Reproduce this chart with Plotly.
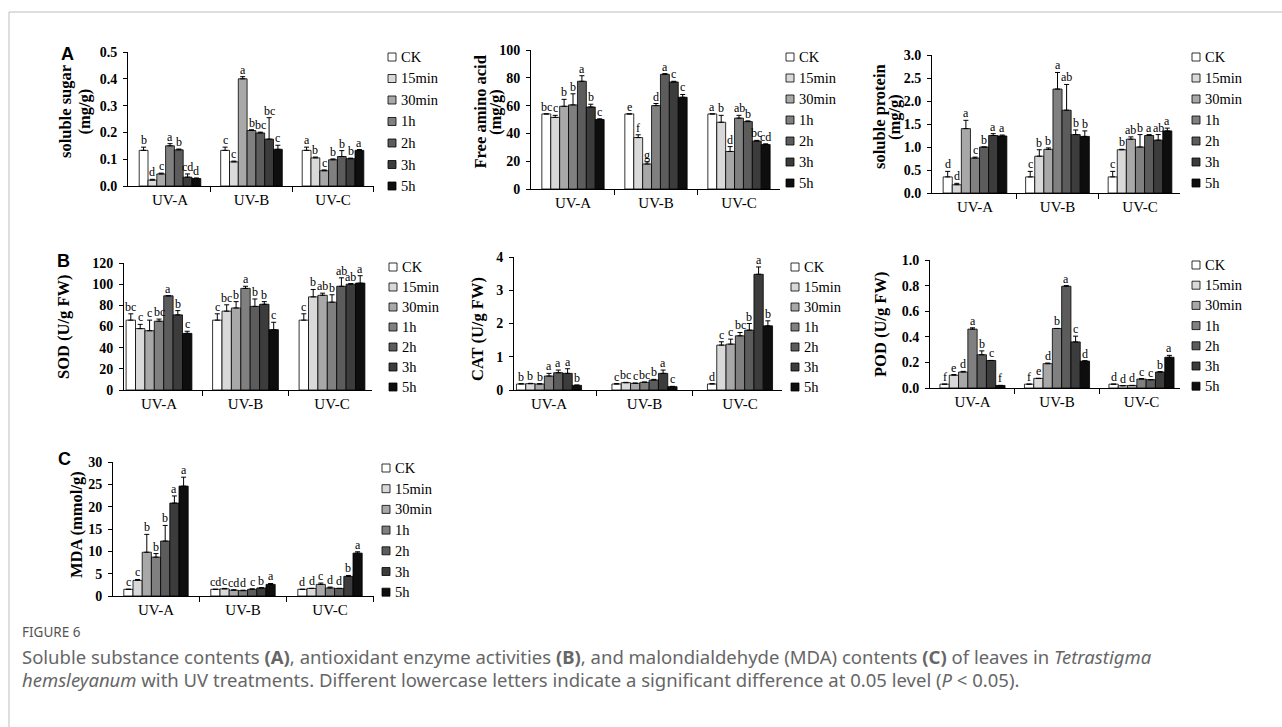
import plotly.graph_objects as go

W, H = 1282, 727

groups = ["UV-A", "UV-B", "UV-C"]
series = ["CK", "15min", "30min", "1h", "2h", "3h", "5h"]
colors = ["#ffffff", "#d9d9d9", "#a8a8a8", "#808080", "#5c5c5c", "#3c3c3c", "#0e0e0e"]

# ---------------- data (rows = UV-A, UV-B, UV-C; columns = CK..5h) ----------------
sugar_val = [[0.133, 0.022, 0.045, 0.150, 0.135, 0.033, 0.028],
             [0.133, 0.090, 0.400, 0.207, 0.198, 0.175, 0.137],
             [0.133, 0.105, 0.057, 0.098, 0.110, 0.102, 0.133]]
sugar_err = [[0.012, 0.003, 0.003, 0.008, 0.003, 0.012, 0.002],
             [0.012, 0.003, 0.008, 0.003, 0.003, 0.080, 0.015],
             [0.012, 0.003, 0.003, 0.003, 0.022, 0.002, 0.003]]
sugar_let = [["b", "d", "c", "a", "b", "cd", "d"],
             ["c", "c", "a", "b", "bc", "bc", "c"],
             ["a", "b", "c", "b", "b", "b", "a"]]

amino_val = [[54, 51.5, 59.5, 60.5, 77.5, 59, 50],
             [54, 37, 18, 60, 82.5, 77, 66],
             [54, 48, 27, 51, 48.5, 34.5, 32]]
amino_err = [[0, 1.5, 5, 8, 4, 2, 0.5],
             [0, 2, 1.5, 1.5, 0.5, 0.5, 2],
             [0, 5, 3.5, 2, 0.5, 0.5, 0.5]]
amino_let = [["bc", "c", "b", "b", "a", "b", "c"],
             ["e", "f", "g", "d", "a", "c", "c"],
             ["a", "b", "d", "ab", "b", "bc", "cd"]]

protein_val = [[0.35, 0.18, 1.40, 0.76, 1.00, 1.25, 1.24],
               [0.35, 0.80, 0.95, 2.26, 1.80, 1.27, 1.23],
               [0.35, 0.94, 1.17, 1.00, 1.25, 1.15, 1.35]]
protein_err = [[0.12, 0.03, 0.18, 0.02, 0.0, 0.04, 0.02],
               [0.12, 0.14, 0.03, 0.36, 0.56, 0.10, 0.12],
               [0.12, 0.01, 0.05, 0.27, 0.02, 0.12, 0.06]]
protein_let = [["d", "d", "a", "c", "b", "a", "a"],
               ["c", "b", "b", "a", "ab", "b", "b"],
               ["c", "b", "ab", "b", "a", "ab", "a"]]

sod_val = [[66, 58, 56, 65, 89, 71, 53.5],
           [66, 74.5, 77.5, 96, 79, 81, 57],
           [66, 88, 89.5, 83, 98, 100, 101]]
sod_err = [[6, 4, 10, 2, 0, 4, 2],
           [6, 6, 6, 2, 7, 2.5, 7],
           [6, 7, 2, 7, 8, 0.5, 7]]
sod_let = [["bc", "c", "c", "bc", "a", "b", "c"],
           ["c", "bc", "b", "a", "b", "b", "c"],
           ["c", "b", "ab", "b", "ab", "ab", "a"]]

cat_val = [[0.18, 0.19, 0.18, 0.42, 0.52, 0.50, 0.14],
           [0.18, 0.22, 0.20, 0.23, 0.30, 0.50, 0.10],
           [0.18, 1.35, 1.38, 1.63, 1.80, 3.48, 1.93]]
cat_err = [[0.01, 0.01, 0.01, 0.08, 0.08, 0.14, 0.01],
           [0.01, 0.01, 0.01, 0.01, 0.02, 0.10, 0.01],
           [0.01, 0.10, 0.15, 0.10, 0.20, 0.22, 0.15]]
cat_let = [["b", "b", "b", "a", "a", "a", "b"],
           ["c", "bc", "c", "bc", "b", "a", "c"],
           ["d", "c", "c", "bc", "b", "a", "b"]]

pod_val = [[0.03, 0.10, 0.125, 0.46, 0.26, 0.215, 0.02],
           [0.03, 0.075, 0.19, 0.465, 0.795, 0.36, 0.21],
           [0.03, 0.018, 0.02, 0.07, 0.065, 0.125, 0.24]]
pod_err = [[0.0, 0.005, 0.005, 0.01, 0.03, 0.0, 0.0],
           [0.0, 0.0, 0.005, 0.0, 0.005, 0.045, 0.003],
           [0.0, 0.0, 0.0, 0.003, 0.0, 0.003, 0.015]]
pod_let = [["f", "e", "d", "a", "b", "c", "f"],
           ["f", "e", "d", "b", "a", "c", "d"],
           ["d", "d", "d", "c", "c", "b", "a"]]

mda_val = [[1.5, 3.5, 9.8, 8.7, 12.3, 20.8, 24.6],
           [1.5, 1.6, 1.3, 1.2, 1.5, 1.8, 2.6],
           [1.5, 1.7, 2.6, 1.8, 1.7, 4.4, 9.6]]
mda_err = [[0.0, 0.2, 4.0, 0.8, 3.5, 1.6, 2.0],
           [0.0, 0.1, 0.1, 0.1, 0.1, 0.05, 0.2],
           [0.0, 0.0, 0.3, 0.2, 0.0, 0.2, 0.3]]
mda_let = [["c", "c", "b", "b", "b", "a", "a"],
           ["cd", "c", "cd", "d", "c", "b", "a"],
           ["d", "d", "c", "d", "d", "b", "a"]]

title_lines = [["soluble sugar", "(mg/g)"], ["Free amino acid", "(mg/g)"], ["soluble protein", "(mg/g)"],
               ["SOD (U/g FW)"], ["CAT (U/g FW)"], ["POD (U/g FW)"], ["MDA (mmol/g)"]]
ymaxes = [0.5, 100, 3.0, 120, 4, 1.0, 30]
dticks = [0.1, 20, 0.5, 20, 1, 0.2, 5]
tickfmts = [".1f", "d", ".1f", "d", "d", ".1f", "d"]

panels_data = [(sugar_val, sugar_err, sugar_let), (amino_val, amino_err, amino_let),
               (protein_val, protein_err, protein_let), (sod_val, sod_err, sod_let),
               (cat_val, cat_err, cat_let), (pod_val, pod_err, pod_let),
               (mda_val, mda_err, mda_let)]

# ---------------- layout geometry (pixels) ----------------
# L, R, top, bottom, first group centre, group spacing, bar px
geom = [(128, 374, 52, 186, 170, 81.5, 8.8),
        (531, 780, 50, 189, 573, 83, 8.9),
        (932, 1180, 55, 193, 975, 82.5, 9.1),
        (124, 372, 263, 390, 159, 86.5, 9.4),
        (514, 782, 257, 390, 549, 95.5, 9.3),
        (930, 1180, 260, 388, 972.5, 84.5, 9.3),
        (113, 374, 462, 596, 156, 87, 9.2)]
# key block: text-left px, first item centre px, item spacing px
key_geom = [(399, 57, 21.5), (797, 57, 21), (1203, 57, 21),
            (400, 267, 20), (802, 267, 20), (1203, 265, 20.2),
            (393, 468, 20.7)]
# y-title line centres x px, centre y px
ytitle_geom = [([65, 83.5], 112), ([479.5, 495], 112), ([880, 895], 117),
               ([64], 327), ([477], 329), ([880], 325), ([76], 525)]

SERIF = "Liberation Serif"
fig = go.Figure()
annotations = []
shapes = []
layout = {}

for k in range(7):
    vals, errs, lets = panels_data[k]
    L, R, T, B, C0, S, bpx = geom[k]
    bw = bpx / S
    xa = "x" if k == 0 else f"x{k+1}"
    ya = "y" if k == 0 else f"y{k+1}"
    for i, s in enumerate(series):
        xs = [g + (i - 3) * bw for g in range(3)]
        ys = [vals[g][i] for g in range(3)]
        es = [errs[g][i] for g in range(3)]
        fig.add_trace(go.Bar(
            x=xs, y=ys, width=bw, name=s, xaxis=xa, yaxis=ya, showlegend=False,
            marker=dict(color=colors[i], line=dict(color="black", width=0.8)),
            error_y=dict(type="data", array=es, arrayminus=[0, 0, 0], symmetric=False,
                         color="black", thickness=1, width=2.5),
            hoverinfo="x+y+name"))
        for g in range(3):
            annotations.append(dict(
                x=xs[g], y=ys[g] + es[g], xref=xa, yref=ya, text=lets[g][i],
                showarrow=False, yanchor="bottom", yshift=-2,
                font=dict(family=SERIF, size=12, color="black")))
    xr = [(L - C0) / S, (R - C0) / S]
    layout["xaxis" if k == 0 else f"xaxis{k+1}"] = dict(
        domain=[L / W, R / W], range=xr, anchor=ya, tickvals=[0, 1, 2], ticktext=groups,
        ticks="", showline=True, linecolor="black", linewidth=1, showgrid=False, zeroline=False,
        tickfont=dict(family=SERIF, size=15, color="black"), ticklabelstandoff=0, automargin=False,
        minor=dict(tickvals=[0.5, 1.5, 2.5], ticks="outside", ticklen=5, tickcolor="black", tickwidth=1),
        fixedrange=True)
    layout["yaxis" if k == 0 else f"yaxis{k+1}"] = dict(
        domain=[1 - B / H, 1 - T / H], range=[0, ymaxes[k]], anchor=xa,
        dtick=dticks[k], tick0=0, tickformat=tickfmts[k], ticks="outside", ticklen=4,
        tickcolor="black", showline=True, linecolor="black", linewidth=1, showgrid=False,
        zeroline=False, tickfont=dict(family=SERIF, size=14, color="black", weight="bold"),
        ticklabelstandoff=3, automargin=False, fixedrange=True)
    # series key to the right of each panel
    tx, ty, dy = key_geom[k]
    for i, s in enumerate(series):
        yc = ty + i * dy
        shapes.append(dict(type="rect", xref="paper", yref="paper",
                           x0=(tx - 11) / W, x1=(tx - 3) / W, y0=1 - (yc + 4) / H, y1=1 - (yc - 4) / H,
                           fillcolor=colors[i], line=dict(color="black", width=0.8)))
        annotations.append(dict(x=tx / W, y=1 - yc / H, xref="paper", yref="paper", text=s,
                                showarrow=False, xanchor="left", yanchor="middle",
                                font=dict(family=SERIF, size=14.5, color="black")))
    cxs, cy = ytitle_geom[k]
    for line, cx in zip(title_lines[k], cxs):
        annotations.append(dict(x=cx / W, y=1 - cy / H, xref="paper", yref="paper", text=line,
                                textangle=-90, showarrow=False, xanchor="center", yanchor="middle",
                                font=dict(family=SERIF, size=16.5, color="black", weight="bold")))

# panel letters
for lab, px, py in [("A", 67, 54), ("B", 63, 261), ("C", 64, 459)]:
    annotations.append(dict(x=px / W, y=1 - py / H, xref="paper", yref="paper", text=f"<b>{lab}</b>",
                            showarrow=False, xanchor="center", yanchor="middle",
                            font=dict(family="Liberation Sans", size=18, color="black")))

# caption
CAP = "Noto Sans"
annotations.append(dict(x=20 / W, y=1 - 632 / H, xref="paper", yref="paper", text="FIGURE 6",
                        showarrow=False, xanchor="left", yanchor="middle",
                        font=dict(family=CAP, size=13.5, color="#555555")))
annotations.append(dict(
    x=20 / W, y=1 - 656 / H, xref="paper", yref="paper", xanchor="left", yanchor="middle", showarrow=False,
    text="Soluble substance contents <b>(A)</b>, antioxidant enzyme activities <b>(B)</b>, and malondialdehyde "
         "(MDA) contents <b>(C)</b> of leaves in <i>Tetrastigma</i>",
    font=dict(family=CAP, size=18.5, color="#666666")))
annotations.append(dict(
    x=20 / W, y=1 - 679 / H, xref="paper", yref="paper", xanchor="left", yanchor="middle", showarrow=False,
    text="<i>hemsleyanum</i> with UV treatments. Different lowercase letters indicate a significant difference "
         "at 0.05 level (<i>P</i> &lt; 0.05).",
    font=dict(family=CAP, size=18.5, color="#666666")))

shapes += [dict(type="line", xref="paper", yref="paper", x0=9 / W, x1=1, y0=1 - 12 / H, y1=1 - 12 / H,
                line=dict(color="#bdbdbd", width=1)),
           dict(type="line", xref="paper", yref="paper", x0=9 / W, x1=9 / W, y0=1 - 12 / H, y1=0,
                line=dict(color="#bdbdbd", width=1))]

fig.update_layout(width=W, height=H, margin=dict(l=0, r=0, t=0, b=0, pad=0, autoexpand=False),
                  barmode="overlay", plot_bgcolor="white", paper_bgcolor="white", showlegend=False,
                  annotations=annotations, shapes=shapes, **layout)

fig.write_html("out.html", config={"displayModeBar": False},
               post_script="document.body.style.margin='0';document.body.style.overflow='hidden';")
